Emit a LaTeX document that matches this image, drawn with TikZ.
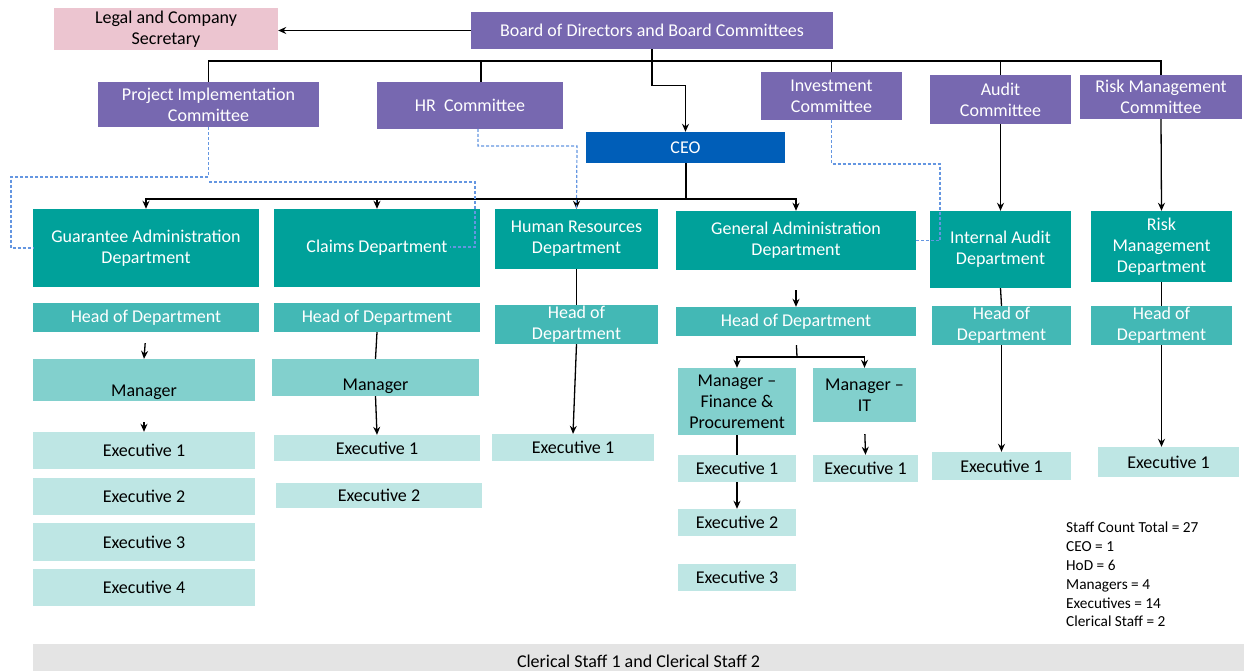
\documentclass[tikz,border=0pt]{standalone}
\usepackage{fontspec}
\setmainfont{Carlito}
\usepackage{tikz}
\usetikzlibrary{calc,arrows.meta}

\definecolor{boardpurple}{RGB}{119,104,176}
\definecolor{legalpink}{RGB}{236,197,208}
\definecolor{ceoblue}{RGB}{0,94,184}
\definecolor{deptteal}{RGB}{0,161,154}
\definecolor{hodteal}{RGB}{67,184,181}
\definecolor{mgrteal}{RGB}{130,208,205}
\definecolor{execteal}{RGB}{190,230,228}
\definecolor{clerkgrey}{RGB}{228,228,228}
\definecolor{dotblue}{RGB}{100,150,225}

\tikzset{
  chartbox/.style={inner sep=0pt, align=center, font=\fontsize{18}{21}\selectfont},
  board/.style={chartbox, fill=boardpurple, text=white},
  legal/.style={chartbox, fill=legalpink, text=black},
  ceobox/.style={chartbox, fill=ceoblue, text=white},
  dept/.style={chartbox, fill=deptteal, text=white},
  hod/.style={chartbox, fill=hodteal, text=white},
  mgr/.style={chartbox, fill=mgrteal, text=black},
  exec/.style={chartbox, fill=execteal, text=black},
  clerk/.style={chartbox, fill=clerkgrey, text=black},
  link/.style={black, line width=1.3pt},
  arr/.style={link, -{Stealth[length=8pt,width=7pt]}},
  dotlink/.style={dotblue, line width=1.2pt, dash pattern=on 3pt off 2pt},
}

\begin{document}
\begin{tikzpicture}[x=1pt, y=-1pt]
  \useasboundingbox (0,0) rectangle (1244,671);

  % board level
  \node[board, minimum width=362pt, minimum height=37pt] (brd) at (652,30.5) {Board of Directors and Board Committees};
  \node[legal, minimum width=224pt, minimum height=42pt] (lcs) at (166,29) {Legal and Company\\Secretary};
  \node[board, minimum width=221pt, minimum height=45pt] (pic) at (208.5,104.5) {Project Implementation\\Committee};
  \node[board, minimum width=186pt, minimum height=47pt] (hrc) at (470,105.5) {HR\ \ Committee};
  \node[board, minimum width=141pt, minimum height=48pt] (inv) at (831.5,96) {Investment\\Committee};
  \node[board, minimum width=141pt, minimum height=49pt] (audc) at (1000.5,99.5) {Audit\\Committee};
  \node[board, minimum width=162pt, minimum height=44pt] (rmc) at (1161,97) {Risk Management\\Committee};
  \node[ceobox, minimum width=199pt, minimum height=31pt] (ceo) at (685.5,147.5) {CEO};

  % departments
  \node[dept, minimum width=226pt, minimum height=78pt] (gad) at (146,248) {Guarantee Administration\\Department};
  \node[dept, minimum width=206pt, minimum height=78pt] (clm) at (377,248) {Claims Department};
  \node[dept, minimum width=163pt, minimum height=60pt] (hrd) at (576.5,239) {Human Resources\\Department};
  \node[dept, minimum width=240pt, minimum height=59pt] (gen) at (796,240.5) {General Administration\\Department};
  \node[dept, minimum width=141pt, minimum height=77pt] (iad) at (1000.5,249.5) {Internal Audit\\Department};
  \node[dept, minimum width=141pt, minimum height=71pt] (rmd) at (1161.5,246.5) {Risk\\Management\\Department};

  % heads of department
  \node[hod, minimum width=226pt, minimum height=29pt] (gah) at (146,317.5) {Head of Department};
  \node[hod, minimum width=206pt, minimum height=29pt] (clh) at (377,317.5) {Head of Department};
  \node[hod, minimum width=163pt, minimum height=39pt] (hrh) at (576.5,324.5) {Head of\\Department};
  \node[hod, minimum width=240pt, minimum height=29pt] (genh) at (796,321.5) {Head of Department};
  \node[hod, minimum width=139pt, minimum height=39pt] (iah) at (1001.5,325.5) {Head of\\Department};
  \node[hod, minimum width=141pt, minimum height=39pt] (rmh) at (1161.5,325.5) {Head of\\Department};

  % managers
  \node[mgr, minimum width=222pt, minimum height=42pt] (gam) at (144,380) {\raisebox{-16pt}[0pt][0pt]{Manager}};
  \node[mgr, minimum width=207pt, minimum height=37pt] (clmm) at (375.5,377.5) {\raisebox{-13pt}[0pt][0pt]{Manager}};
  \node[mgr, minimum width=118pt, minimum height=67pt] (gmf) at (737,401.5) {Manager --\\Finance \&\\Procurement};
  \node[mgr, minimum width=103pt, minimum height=54pt] (gmi) at (864.5,395) {Manager --\\IT};

  % executives
  \node[exec, minimum width=222pt, minimum height=37pt] (gae1) at (144,450.5) {Executive 1};
  \node[exec, minimum width=222pt, minimum height=37pt] (gae2) at (144,496.5) {Executive 2};
  \node[exec, minimum width=222pt, minimum height=38pt] (gae3) at (144,542) {Executive 3};
  \node[exec, minimum width=222pt, minimum height=37pt] (gae4) at (144,587.5) {Executive 4};
  \node[exec, minimum width=206pt, minimum height=26pt] (cle1) at (377,448) {Executive 1};
  \node[exec, minimum width=206pt, minimum height=25pt] (cle2) at (379,495.5) {Executive 2};
  \node[exec, minimum width=162pt, minimum height=27pt] (hre1) at (573,447.5) {Executive 1};
  \node[exec, minimum width=118pt, minimum height=27pt] (gfe1) at (737,468.5) {Executive 1};
  \node[exec, minimum width=118pt, minimum height=27pt] (gfe2) at (737,522.5) {Executive 2};
  \node[exec, minimum width=118pt, minimum height=27pt] (gfe3) at (737,577.5) {Executive 3};
  \node[exec, minimum width=105pt, minimum height=27pt] (gie1) at (865.5,468.5) {Executive 1};
  \node[exec, minimum width=139pt, minimum height=28pt] (iae1) at (1001.5,466) {Executive 1};
  \node[exec, minimum width=141pt, minimum height=30pt] (rme1) at (1168.5,462) {Executive 1};

  \node[clerk, minimum width=1211pt, minimum height=27pt] (clerical) at (638.5,657.5) {\raisebox{-10pt}[0pt][0pt]{Clerical Staff 1 and Clerical Staff 2}};
  \node[anchor=north west, align=left, inner sep=0pt, font=\fontsize{15.3}{18.8}\selectfont] (staff) at (1066,522)
    {Staff Count Total = 27\\CEO = 1\\HoD = 6\\Managers = 4\\Executives = 14\\Clerical Staff = 2};

  % board links
  \coordinate (bus) at (652,61);
  \coordinate (dbus) at (686,199);
  \coordinate (gsplit) at (797,357);
  \draw[arr] (brd.west) -- (brd.west -| lcs.east);
  \draw[arr] (brd.south) -- ++(0,36) -| (ceo.north);
  \draw[link] (pic.north) |- (rmc.north |- bus) -- (rmc.north);
  \draw[link] ($(hrc.north)+(11,0)$) -- ($(hrc.north |- bus)+(11,0)$);
  \draw[link] (inv.north) -- (inv.north |- bus);
  \draw[link] (audc.north) -- (audc.north |- bus);
  \draw[arr] (audc.south) -- (iad.north);
  \draw[arr] (rmc.south) -- (rmd.north);

  % ceo links
  \draw[link, line width=2pt] (ceo.south) -- (ceo.south |- dbus) -- (dbus -| hrd.north);
  \draw[arr] (dbus) -| (gad.north);
  \draw[arr] (dbus) -| (clm.north);
  \draw[arr, line width=2pt] (dbus) -| (hrd.north);
  \draw[arr] (dbus) -| (gen.north);

  % dotted reporting lines
  \draw[dotlink] (pic.south) |- (11,177) |- (gad.west);
  \draw[dotlink] (209,182) -| (475,247) -- (450,247);
  \draw[dotlink] (478,129) |- (577,146) -- (hrd.north);
  \draw[dotlink] (inv.south) |- (940,164) |- (gen.east);

  % inside departments
  \draw[arr, shorten <=11pt] (gah.south) -- (gam.north);
  \draw[arr, shorten <=21pt] (gam.south) -- (gae1.north);
  \draw[link] (clh.south) -- (clmm.north);
  \draw[arr] (clmm.south) -- (cle1.north);
  \draw[link] (hrd.south) -- (hrh.north);
  \draw[arr] (hrh.south) -- (hre1.north);
  \draw[arr, shorten <=20pt] (gen.south) -- (genh.north);
  \draw[link, shorten <=9pt] (genh.south) -- (gsplit);
  \draw[arr] (gsplit) -| (gmf.north);
  \draw[arr] (gsplit) -| (gmi.north);
  \draw[link] (gmf.south) -- (gfe1.north);
  \draw[arr] (gfe1.south) -- (gfe2.north);
  \draw[arr, shorten <=12pt] (gmi.south) -- (gie1.north);
  \draw[link] (iad.south) -- (iah.north);
  \draw[arr] (iah.south) -- (iae1.north);
  \draw[link] (rmd.south) -- (rmh.north);
  \draw[arr] (rmh.south) -- (rmh.south |- rme1.north);
\end{tikzpicture}
\end{document}
